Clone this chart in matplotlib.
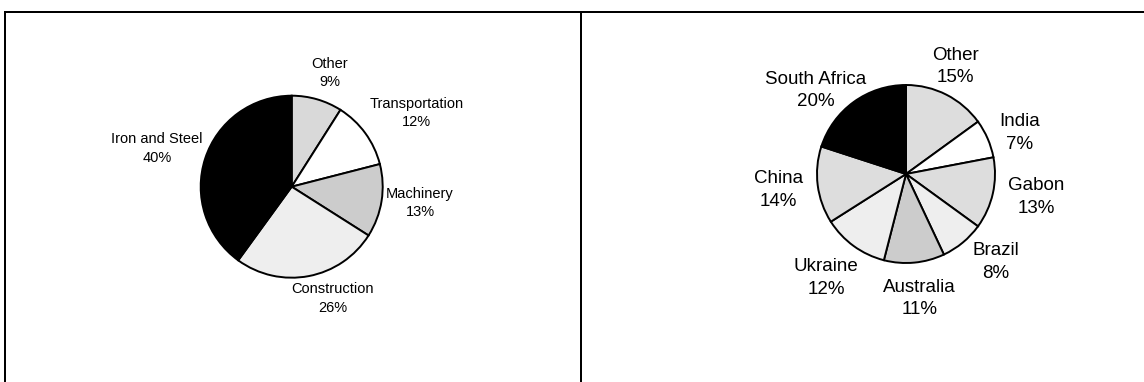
import matplotlib
matplotlib.use("Agg")
import matplotlib.pyplot as plt
from matplotlib.lines import Line2D

# ---- data ----
use_labels = ["Other", "Transportation", "Machinery", "Construction", "Iron and Steel"]
use_values = [9, 12, 13, 26, 40]
prod_labels = ["Other", "India", "Gabon", "Brazil", "Australia", "Ukraine", "China", "South Africa"]
prod_values = [15, 7, 13, 8, 11, 12, 14, 20]

# ---- styles ----
use_colors = ["#d9d9d9", "#ffffff", "#cccccc", "#eeeeee", "#000000"]
prod_colors = ["#dddddd", "#ffffff", "#dddddd", "#eeeeee", "#cccccc", "#eeeeee", "#dddddd", "#000000"]
# label placement, in units of the pie radius relative to its centre
use_lpos = [(0.42, 1.25), (1.37, 0.81), (1.41, -0.18), (0.45, -1.23), (-1.48, 0.42)]
prod_lpos = [(0.56, 1.21), (1.28, 0.46), (1.46, -0.26), (1.01, -0.99),
             (0.15, -1.40), (-0.90, -1.17), (-1.43, -0.18), (-1.01, 0.94)]

W, H = 1144, 382
plt.rcParams["font.family"] = ["Liberation Sans", "DejaVu Sans"]
fig = plt.figure(figsize=(W / 100, H / 100), dpi=100)
ax = fig.add_axes([0, 0, 1, 1])


def draw_pie(values, labels, colors, lpos, center, radius, fsize, lsp):
    ax.pie(values, colors=colors, startangle=90, counterclock=False,
           center=center, radius=radius, frame=True,
           wedgeprops=dict(edgecolor="black", linewidth=1.4))
    for lab, v, (fx, fy) in zip(labels, values, lpos):
        ax.text(center[0] + radius * fx, center[1] + radius * fy, f"{lab}\n{v}%",
                ha="center", va="center", fontsize=fsize, linespacing=lsp,
                family=["Liberation Sans", "DejaVu Sans"])


draw_pie(use_values, use_labels, use_colors, use_lpos, (291.7, H - 186.7), 91, 10.5, 1.4)
draw_pie(prod_values, prod_labels, prod_colors, prod_lpos, (906, H - 174), 89, 13.5, 1.42)

ax.set_xlim(0, W)
ax.set_ylim(0, H)
ax.set_aspect("equal")
ax.axis("off")

# panel frame
lw = 2.0 * 72 / 100
fig.add_artist(Line2D([5 / W, 1.0], [1 - 12 / H, 1 - 12 / H], color="black", lw=lw))
fig.add_artist(Line2D([5 / W, 5 / W], [0, 1 - 12 / H], color="black", lw=lw))
fig.add_artist(Line2D([581 / W, 581 / W], [0, 1 - 12 / H], color="black", lw=lw))

fig.savefig("out.png", dpi=100, facecolor="white")
